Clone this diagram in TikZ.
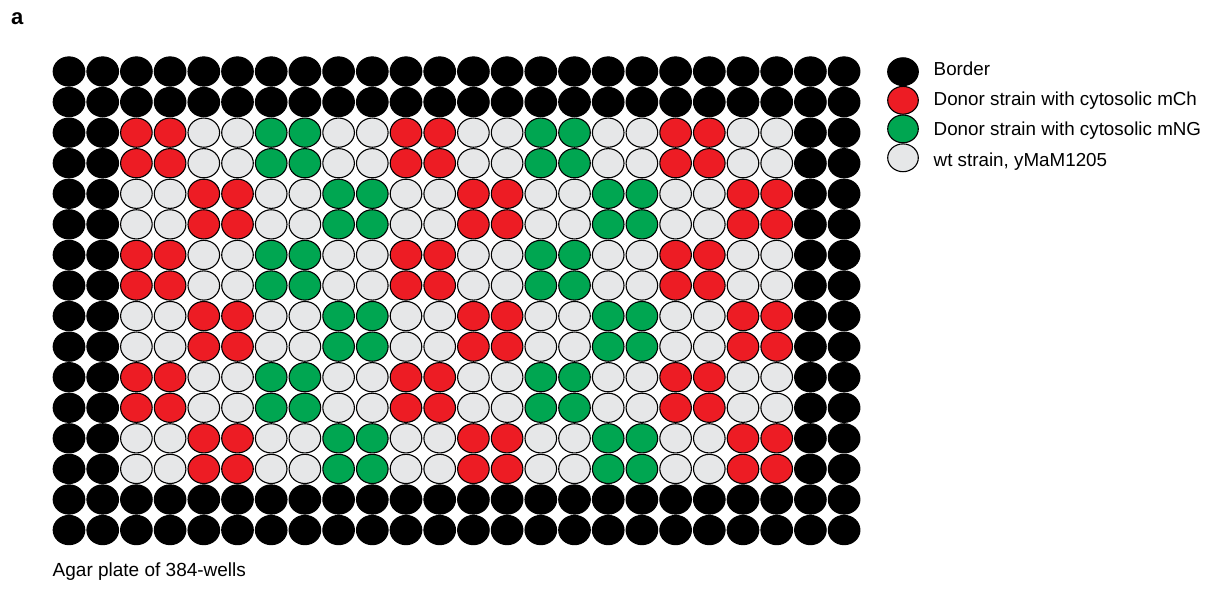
\documentclass[tikz,border=0pt]{standalone}
\usepackage{fontspec}
\setmainfont{Liberation Sans}
\usetikzlibrary{shapes.geometric}
\definecolor{wellred}{HTML}{ED1C24}
\definecolor{wellgreen}{HTML}{00A651}
\definecolor{wellgrey}{HTML}{E6E7E8}
\tikzset{
  well/.style={ellipse,inner sep=0pt,minimum width=31.6pt,minimum height=29.2pt,line width=1.1pt},
  legwell/.style={ellipse,inner sep=0pt,minimum width=30.6pt,minimum height=27.8pt,line width=1.1pt},
  bd/.style={fill=black,draw=black},
  rd/.style={fill=wellred,draw=black},
  gn/.style={fill=wellgreen,draw=black},
  wt/.style={fill=wellgrey,draw=black},
  lbl/.style={inner sep=0pt,anchor=base west,font=\fontsize{18.8}{22}\selectfont}
}
\begin{document}
\begin{tikzpicture}[x=1pt,y=-1pt]
\useasboundingbox (0,0) rectangle (1220,589);
\node[inner sep=0pt,anchor=base west,font=\fontsize{22}{26}\selectfont\bfseries] (panel) at (11,24) {a};
\foreach \r in {0,...,15}{
  \foreach \c in {0,...,23}{
    \pgfmathtruncatemacro\isb{or(or(\r<2,\r>13),or(\c<2,\c>21))}
    \pgfmathtruncatemacro\k{mod(int((\c-2)/2)+3*mod(int((\r-2)/2),2),4)}
    \ifnum\isb=1 \def\sty{bd}\else
      \ifcase\k \def\sty{rd}\or \def\sty{wt}\or \def\sty{gn}\or \def\sty{wt}\else \def\sty{bd}\fi
    \fi
    \node[well,\sty] (w-\r-\c) at ({69+33.7*\c},{71.5+30.57*\r}) {};
  }
}
\node[legwell,bd] (l1) at (903,71.7) {};
\node[legwell,rd] (l2) at (903,100.3) {};
\node[legwell,gn] (l3) at (903,128.9) {};
\node[legwell,wt] (l4) at (903,157.8) {};
\node[lbl] (t1) at (933.5,75.7) {Border};
\node[lbl] (t2) at (933.5,105.8) {Donor strain with cytosolic mCh};
\node[lbl] (t3) at (933.5,135.9) {Donor strain with cytosolic mNG};
\node[lbl] (t4) at (933.5,166) {wt strain, yMaM1205};
\node[lbl,font=\fontsize{19}{22}\selectfont] (cap) at (52.5,576.7) {Agar plate of 384-wells};
\end{tikzpicture}
\end{document}
